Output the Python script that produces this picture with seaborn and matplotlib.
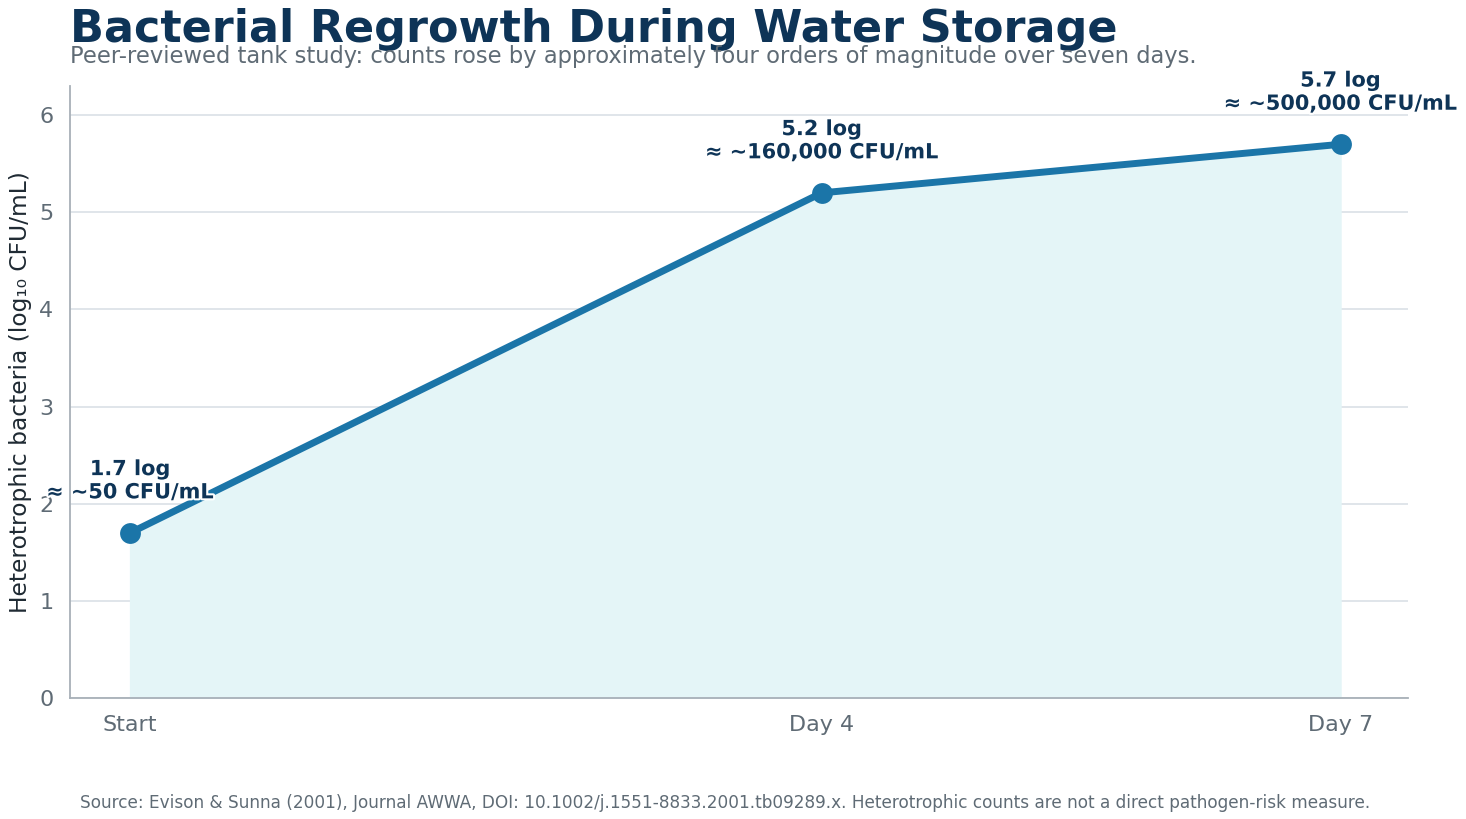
import matplotlib
matplotlib.use("Agg")
import matplotlib.pyplot as plt
import matplotlib.patheffects as pe
import seaborn as sns
import pandas as pd

days = [0, 4, 7]
day_labels = ["Start", "Day 4", "Day 7"]
log_counts = [1.7, 5.2, 5.7]
cfu_labels = ["≈ ~50 CFU/mL", "≈ ~160,000 CFU/mL", "≈ ~500,000 CFU/mL"]

df = pd.DataFrame({"day": days, "log_cfu": log_counts})

sns.set_style("white")
plt.rcParams["font.family"] = ["DejaVu Sans"]

navy = "#0e3457"
blue = "#1b75a8"
gray = "#5f6b75"

fig = plt.figure(figsize=(14.66, 8.19), dpi=100)
ax = fig.add_axes([0.0478, 0.1477, 0.9126, 0.7473])

ax.fill_between(df["day"], df["log_cfu"], 0, color="#e4f5f7", zorder=1)
sns.lineplot(data=df, x="day", y="log_cfu", ax=ax, color=blue, linewidth=5,
             marker="o", markersize=15, markeredgewidth=0, zorder=3)

for d, v, c in zip(days, log_counts, cfu_labels):
    ax.annotate(f"{v} log\n{c}", xy=(d, v), xytext=(0, 22), textcoords="offset points",
                ha="center", va="bottom", fontsize=15, fontweight="bold", color=navy,
                linespacing=1.2, zorder=5,
                path_effects=[pe.withStroke(linewidth=3, foreground="white")])

ax.set_xlim(-0.347, 7.39)
ax.set_ylim(0, 6.3)
ax.set_xticks(days)
ax.set_xticklabels(day_labels)
ax.set_yticks(range(0, 7))
ax.grid(axis="y", color="#dde3e8", linewidth=1.3, zorder=0)
ax.set_axisbelow(True)
ax.tick_params(axis="both", colors="#a8b0b8", labelcolor=gray, labelsize=16,
               length=6, width=1.3, pad=6)
ax.set_xlabel("")
ax.set_ylabel("Heterotrophic bacteria (log₁₀ CFU/mL)", fontsize=16.8, color="#1f2a33", labelpad=5)
for s in ["top", "right"]:
    ax.spines[s].set_visible(False)
for s in ["left", "bottom"]:
    ax.spines[s].set_color("#a8b0b8")
    ax.spines[s].set_linewidth(1.3)

fig.text(0.0478, 0.9487, "Bacterial Regrowth During Water Storage", fontsize=32,
         fontweight="bold", color=navy, ha="left", va="baseline")
fig.text(0.0478, 0.9235, "Peer-reviewed tank study: counts rose by approximately four orders of magnitude over seven days.",
         fontsize=16.3, color=gray, ha="left", va="baseline")
fig.text(0.4945, 0.0135, "Source: Evison & Sunna (2001), Journal AWWA, DOI: 10.1002/j.1551-8833.2001.tb09289.x. Heterotrophic counts are not a direct pathogen-risk measure.",
         fontsize=12.2, color=gray, ha="center", va="baseline")

fig.savefig("out.png", dpi=100)
